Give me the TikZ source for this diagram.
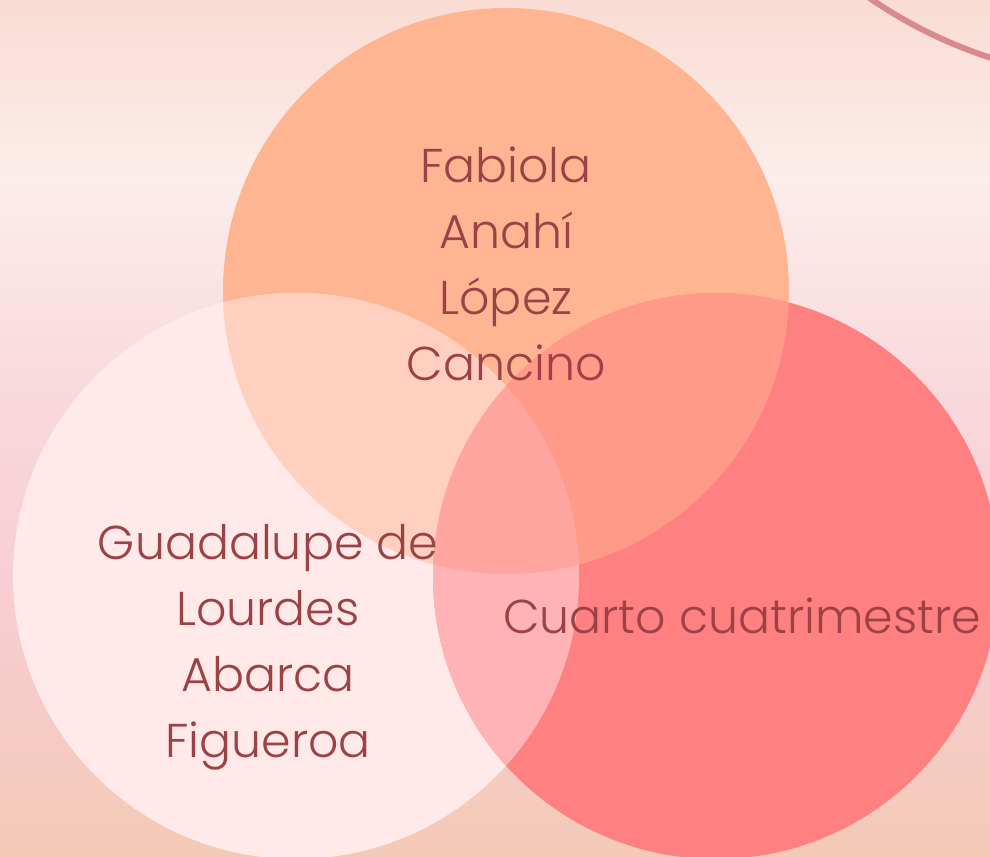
\documentclass[tikz,border=0pt]{standalone}
\usepackage{fontspec}
\setmainfont{Poppins}[UprightFont=* Light]
\usepackage{xcolor}
\usepackage{tikz}
\usetikzlibrary{calc}
\usetikzlibrary{math}

\definecolor{soloArriba}{HTML}{FFB592}
\definecolor{soloIzq}{HTML}{FFE9E9}
\definecolor{soloDer}{HTML}{FF8080}
\definecolor{arribaIzq}{HTML}{FFD0BF}
\definecolor{arribaDer}{HTML}{FF9A88}
\definecolor{izqDer}{HTML}{FFB3B4}
\definecolor{centro}{HTML}{FFA59F}
\definecolor{texto}{HTML}{9C4146}
\definecolor{arco}{HTML}{D98A8E}
\definecolor{fondoA}{HTML}{F9DCD3}
\definecolor{fondoB}{HTML}{FCEDEA}
\definecolor{fondoC}{HTML}{F9D8DB}
\definecolor{fondoD}{HTML}{F7CDD2}
\definecolor{fondoE}{HTML}{F3CAB6}
\pgfdeclareverticalshading{acuarela}{100bp}{color(0bp)=(fondoE); color(25bp)=(fondoE); color(40bp)=(fondoD); color(51.5bp)=(fondoC); color(64.5bp)=(fondoB); color(75bp)=(fondoA); color(100bp)=(fondoA)}

\tikzset{
  nombre/.style={text=texto, font=\fontsize{27}{37.4}\selectfont, align=center, anchor=base, inner sep=0pt}
}

\begin{document}
\begin{tikzpicture}[x=0.02cm,y=-0.02cm]
            \tikzmath{\radio = 283;}
            \useasboundingbox (0,0) rectangle (990,856);
            \clip (0,0) rectangle (990,856);
            \shade[shading=acuarela] (0,0) rectangle (990,856);
            \coordinate (S) at (506,291);
            \coordinate (I) at (296,576);
            \coordinate (D) at (716,576);
            \coordinate (O) at (1133,-384);
            \draw[arco, line width=3.4pt] (O) circle (464);
            % circulos
            \fill[soloArriba] (S) circle (\radio);
            \fill[soloIzq] (I) circle (\radio);
            \fill[soloDer] (D) circle (\radio);
            % cruces
            \begin{scope}
                \clip (S) circle (\radio);
                \fill[arribaIzq] (I) circle (\radio);
                \fill[arribaDer] (D) circle (\radio);
            \end{scope}
            \begin{scope}
                \clip (I) circle (\radio);
                \fill[izqDer] (D) circle (\radio);
                \clip (D) circle (\radio);
                \fill[centro] (S) circle (\radio);
            \end{scope}
            \node[nombre] (fabiola) at (506,380) {Fabiola\\Anahí\\López\\Cancino};
            \node[nombre] (guadalupe) at (268,757) {Guadalupe de\\Lourdes\\Abarca\\Figueroa};
            \node[nombre] (cuarto) at (742,633) {Cuarto cuatrimestre};
\end{tikzpicture}
\end{document}
